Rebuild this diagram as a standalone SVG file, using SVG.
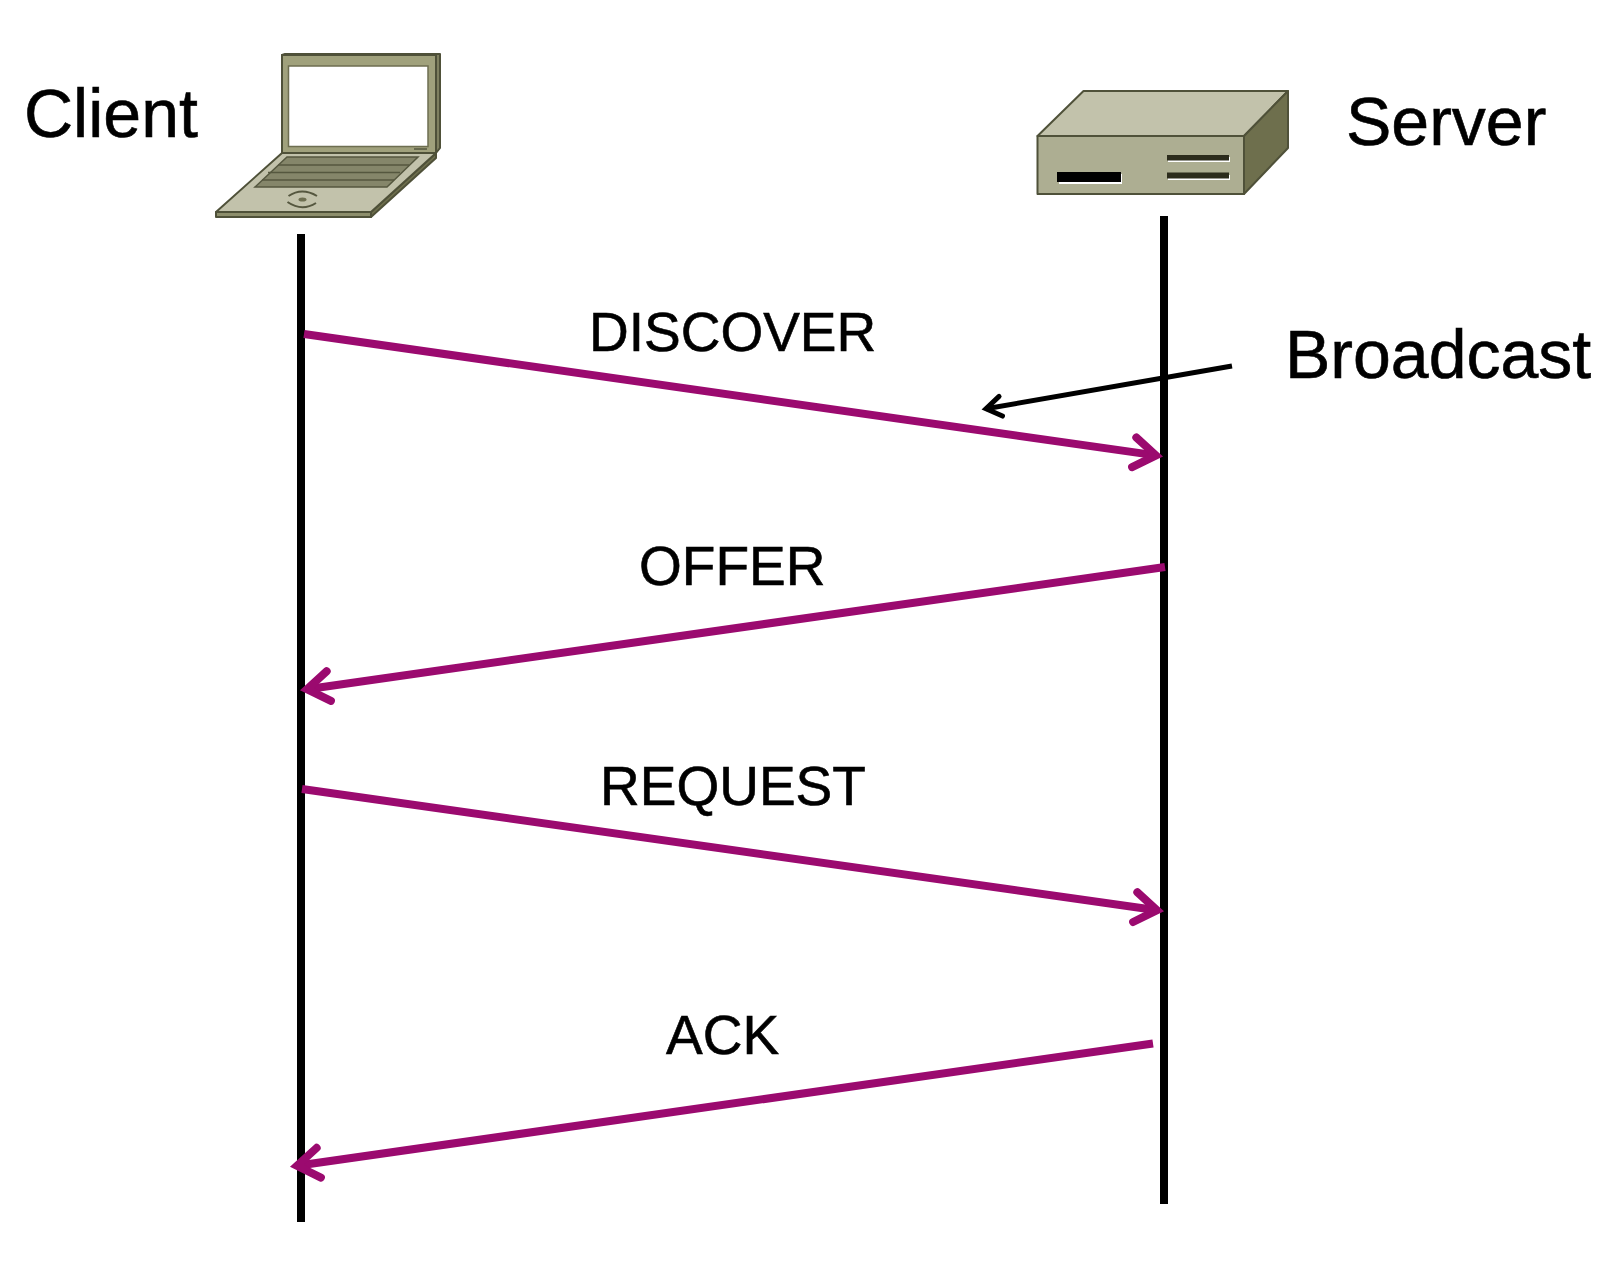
<svg xmlns="http://www.w3.org/2000/svg" width="1624" height="1272" viewBox="0 0 1624 1272">
<style>
text{font-family:"Liberation Sans",Arial,sans-serif;fill:#000;stroke:#000;stroke-width:.6}
.big{font-size:68px}
.msg{font-size:55px}
.life{stroke:#000;stroke-width:8;fill:none}
.call{stroke:#9b0a6f;stroke-width:8;fill:none}
.note{stroke:#000;stroke-width:5;fill:none}
.edge{stroke:#4f5139;stroke-width:2;stroke-linejoin:round}
</style>
<defs>
<marker id="headM" markerUnits="userSpaceOnUse" orient="auto" refX="0" refY="0" markerWidth="70" markerHeight="70" viewBox="-35 -35 70 70"><path d="M-22,-15 L0,0 L-22,15" fill="none" stroke="#9b0a6f" stroke-width="8" stroke-linecap="round"/></marker>
<marker id="headK" markerUnits="userSpaceOnUse" orient="auto" refX="0" refY="0" markerWidth="50" markerHeight="50" viewBox="-25 -25 50 50"><path d="M-15,-10 L0,0 L-15,10" fill="none" stroke="#000" stroke-width="5" stroke-linecap="round"/></marker>
</defs>
<rect width="1624" height="1272" fill="#fff"/>
<g id="client-laptop">
<path class="edge" d="M282,55 L285,54 L440,54 L440,148 L436,153 L436,55Z" fill="#7f8060"/>
<rect class="edge" x="282" y="55" width="154" height="98" fill="#a0a17c"/>
<rect x="288.500" y="66" width="139.500" height="80.500" fill="#fff" stroke="#6d6e50" stroke-width="1.500"/>
<path d="M414,149 L427,149" stroke="#55573f" stroke-width="1.500"/>
<path class="edge" d="M216,212 L371,212 L371,217 L216,217Z" fill="#8d8e6c"/>
<path class="edge" d="M436,153 L436,158 L371,217 L371,212Z" fill="#6e6f4d"/>
<path class="edge" d="M282,153 L436,153 L371,212 L216,212Z" fill="#c2c2ab"/>
<path d="M287,157 L418,157 L387,187 L255,187Z" fill="#85866a" stroke="#55573f" stroke-width="1.500"/>
<path d="M278,165 L409,165 M268,172.500 L400,172.500 M262,180 L394,180" stroke="#55573f" stroke-width="1.500" fill="none"/>
<ellipse cx="302.500" cy="199.500" rx="4" ry="2" fill="#6d6e50"/>
<path d="M288.500,196 Q302,187 317,196 M287.500,202 Q302,212 316,203" fill="none" stroke="#55573f" stroke-width="2"/>
</g>
<g id="server-box">
<path class="edge" d="M1037.500,136 L1083.500,91 L1288,91 L1244,136Z" fill="#c2c2ab"/>
<path class="edge" d="M1244,136 L1288,91 L1288,148 L1244,194Z" fill="#6e6f4d"/>
<rect class="edge" x="1037.500" y="136" width="206.500" height="58" fill="#adae92"/>
<rect x="1059" y="174" width="63" height="10" fill="#fff"/>
<rect x="1057" y="172" width="64" height="10" fill="#000"/>
<rect x="1168" y="157" width="62" height="5" fill="#fff"/>
<rect x="1167" y="155" width="62" height="5.500" fill="#2c2c1c"/>
<rect x="1168" y="175" width="62" height="5" fill="#fff"/>
<rect x="1167" y="172.500" width="62" height="6" fill="#2c2c1c"/>
</g>
<g id="labels">
<text class="big" x="24" y="137">Client</text>
<text class="big" x="1346" y="145">Server</text>
<text class="big" x="1285" y="378">Broadcast</text>
<text class="msg" x="589" y="351">DISCOVER</text>
<text class="msg" x="639" y="585">OFFER</text>
<text class="msg" x="600" y="805">REQUEST</text>
<text class="msg" x="666" y="1054">ACK</text>
</g>
<g id="connectors">
<line class="life" x1="301" y1="234" x2="301" y2="1222"/>
<line class="life" x1="1164" y1="216" x2="1164" y2="1204"/>
<line class="call" x1="304" y1="334" x2="1156" y2="455.400" marker-end="url(#headM)"/>
<line class="call" x1="1165" y1="567" x2="307" y2="689.200" marker-end="url(#headM)"/>
<line class="call" x1="302" y1="789" x2="1157" y2="910.200" marker-end="url(#headM)"/>
<line class="call" x1="1153" y1="1043.500" x2="297" y2="1165.800" marker-end="url(#headM)"/>
<line class="note" x1="1232" y1="366" x2="986" y2="408.800" marker-end="url(#headK)"/>
</g>
</svg>
